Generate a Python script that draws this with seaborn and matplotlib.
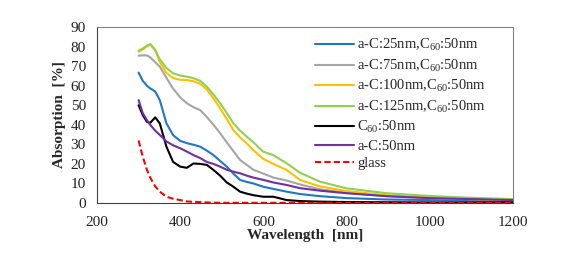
import numpy as np
import pandas as pd
import matplotlib
matplotlib.use("Agg")
import matplotlib.pyplot as plt
import seaborn as sns

# wavelength grid (nm) and absorption (%)
wl = [300, 310, 320, 328, 340, 351, 367, 383, 400, 416, 432, 448, 464, 480, 496, 512,
      528, 544, 560, 576, 600, 624, 656, 688, 736, 800, 896, 1000, 1096, 1200]

ac25 = [66.7, 62.5, 60.0, 58.6, 57.0, 52.6, 40.7, 34.7, 31.8, 30.6, 29.8, 28.8, 26.8, 24.5, 21.5, 18.6,
        15.0, 11.8, 10.8, 10.0, 8.3, 7.2, 5.8, 4.6, 3.5, 2.5, 1.8, 1.5, 1.2, 1.0]
ac75 = [75.3, 75.5, 75.5, 74.5, 72.0, 69.7, 64.0, 58.5, 54.0, 51.0, 49.0, 47.5, 44.0, 40.0, 35.7, 31.0,
        26.5, 22.0, 19.5, 17.0, 15.0, 13.0, 11.5, 9.5, 7.0, 5.3, 3.5, 2.5, 2.0, 1.5]
ac100 = [77.4, 78.5, 80.0, 81.0, 78.5, 72.0, 66.5, 63.9, 63.0, 62.9, 62.3, 61.0, 58.0, 53.5, 48.4, 43.0,
         37.3, 33.5, 30.5, 27.0, 22.5, 20.0, 16.9, 11.8, 8.5, 6.1, 4.0, 2.8, 2.0, 1.5]
ac125 = [77.9, 79.0, 80.5, 81.3, 78.0, 73.5, 69.0, 66.3, 65.2, 64.6, 63.8, 62.5, 59.5, 55.5, 51.0, 46.0,
         40.7, 37.0, 33.9, 31.0, 26.2, 24.5, 20.3, 15.5, 10.9, 7.5, 5.0, 3.6, 2.7, 2.0]
c60 = [50.0, 45.0, 41.5, 41.0, 43.8, 40.7, 28.8, 21.0, 18.6, 18.0, 20.2, 20.0, 19.5, 16.9, 14.0, 10.5,
       8.3, 5.8, 4.8, 4.0, 3.2, 3.2, 1.5, 1.0, 0.7, 0.5, 0.4, 0.3, 0.3, 0.3]
ac50 = [52.6, 46.0, 42.4, 40.0, 37.0, 34.8, 31.5, 29.5, 28.0, 26.3, 24.5, 23.0, 21.0, 20.0, 18.6, 17.0,
        16.0, 15.2, 14.0, 13.0, 11.8, 10.5, 9.2, 7.6, 6.3, 5.0, 3.5, 2.5, 2.0, 1.5]
glass = [32.0, 23.7, 17.0, 13.0, 8.5, 5.8, 3.2, 2.2, 1.5, 0.8, 0.6, 0.5, 0.3, 0.2, 0.1, 0.1,
         0.1, 0.1, 0.1, 0.1, 0.1, 0.1, 0.1, 0.1, 0.1, 0.1, 0.1, 0.1, 0.1, 0.1]

labels = ["a-C:25nm,C$_{60}$:50nm", "a-C:75nm,C$_{60}$:50nm", "a-C:100nm,C$_{60}$:50nm",
          "a-C:125nm,C$_{60}$:50nm", "C$_{60}$:50nm", "a-C:50nm", "glass"]
colors = ["#1f77c8", "#a5a5a5", "#ffc000", "#8fd14f", "#000000", "#7030a0", "#ff0000"]

series = [ac25, ac75, ac100, ac125, c60, ac50, glass]
df = pd.concat([pd.DataFrame({"wl": wl, "abs": s, "sample": lab}) for s, lab in zip(series, labels)])

sns.set_style("white")
plt.rcParams["font.family"] = ["Liberation Serif", "DejaVu Serif"]
plt.rcParams["mathtext.fontset"] = "custom"
plt.rcParams["mathtext.rm"] = "Liberation Serif"
plt.rcParams["mathtext.it"] = "Liberation Serif"

fig = plt.figure(figsize=(5.8, 2.56), dpi=100)
ax = fig.add_axes([0.1672, 0.207, 0.7173, 0.6875])

sns.lineplot(data=df, x="wl", y="abs", hue="sample", palette=colors, hue_order=labels,
             style="sample", dashes={lab: ((3, 1.5) if lab == "glass" else "") for lab in labels},
             linewidth=1.5, ax=ax)

ax.set_xlim(200, 1200)
ax.set_ylim(0, 90)
ax.set_xticks(range(200, 1201, 200))
ax.set_yticks(range(0, 91, 10))
ax.tick_params(direction="in", length=3, labelsize=11, colors="#404040", labelcolor="#222222")
ax.tick_params(axis="x", pad=9)
ax.tick_params(axis="y", pad=8)
ax.set_xlabel("Wavelength  [nm]", fontsize=11, fontweight="bold", labelpad=0)
ax.set_ylabel("Absorption  [%]", fontsize=11, fontweight="bold", labelpad=3)
for side in ["left", "bottom"]:
    ax.spines[side].set_color("#404040")
for side in ["top", "right"]:
    ax.spines[side].set_color("#808080")

ax.legend(loc="upper right", frameon=False, fontsize=10.5, handlelength=2.7, handletextpad=0.2,
          labelspacing=0.3, borderaxespad=0.3, bbox_to_anchor=(0.96, 1.0))

fig.savefig("out.png", dpi=100)
